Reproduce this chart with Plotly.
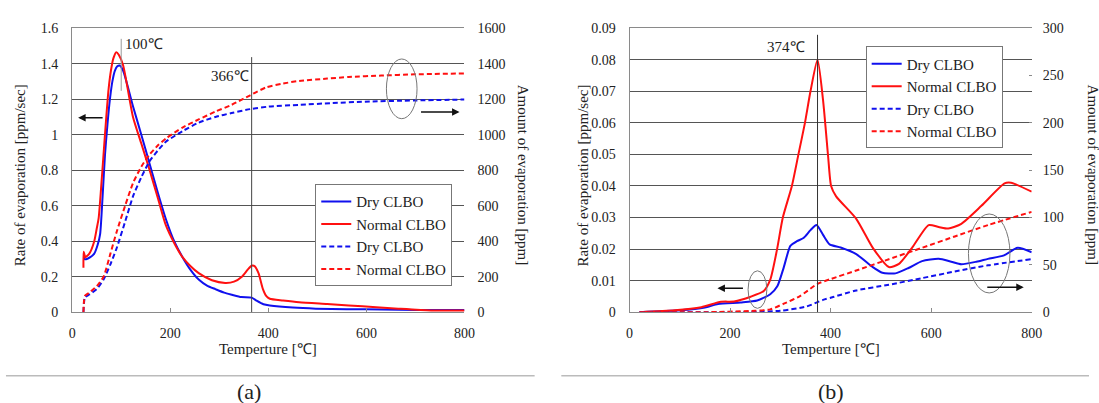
import plotly.graph_objects as go

W, H = 1099, 403
def px(x): return x / W
def py(y): return 1 - y / H

# ---------------- Panel (a) data ----------------
a_dry_rate_T = [24, 25, 30, 37, 45, 52, 57, 62, 67, 72, 77, 82, 87, 92, 97, 104, 124, 141, 158, 175, 191, 208, 225, 241, 258, 275, 292, 310, 326, 345, 366, 376, 390, 403, 450, 497, 560, 631, 700, 800]
a_dry_rate   = [0.335, 0.30, 0.30, 0.31, 0.33, 0.38, 0.44, 0.65, 0.89, 1.06, 1.20, 1.30, 1.36, 1.385, 1.39, 1.36, 1.16, 1.00, 0.835, 0.67, 0.525, 0.40, 0.31, 0.24, 0.184, 0.15, 0.13, 0.11, 0.098, 0.085, 0.082, 0.065, 0.045, 0.038, 0.026, 0.02, 0.017, 0.015, 0.013, 0.012]

a_norm_rate_T = [23, 23.5, 27, 35, 45, 50, 54, 59, 64, 69, 74, 79, 84, 90, 95, 104, 124, 141, 158, 175, 191, 208, 225, 241, 258, 285, 312, 330, 346, 358, 366, 372, 380, 389, 396, 403, 430, 463, 520, 564, 620, 665, 732, 800]
a_norm_rate   = [0.25, 0.34, 0.31, 0.33, 0.40, 0.47, 0.53, 0.70, 0.89, 1.08, 1.25, 1.36, 1.43, 1.465, 1.45, 1.39, 1.10, 0.95, 0.80, 0.64, 0.49, 0.39, 0.31, 0.26, 0.22, 0.18, 0.165, 0.172, 0.20, 0.24, 0.262, 0.26, 0.22, 0.13, 0.09, 0.076, 0.066, 0.056, 0.046, 0.038, 0.028, 0.02, 0.01, 0.01]

a_dry_amt_T = [23, 24, 26, 35, 50, 64, 78, 91, 108, 124, 141, 158, 175, 191, 225, 258, 292, 325, 363, 400, 463, 530, 597, 700, 800]
a_dry_amt   = [0, 50, 83, 100, 130, 184, 270, 363, 510, 652, 760, 851, 912, 960, 1020, 1068, 1100, 1122, 1144, 1158, 1168, 1178, 1186, 1193, 1198]

a_norm_amt_T = [23, 24, 26, 35, 50, 64, 78, 91, 108, 124, 141, 158, 175, 191, 225, 258, 292, 325, 363, 396, 430, 463, 520, 564, 630, 698, 800]
a_norm_amt   = [0, 60, 92, 110, 146, 200, 330, 455, 600, 727, 820, 889, 940, 978, 1040, 1086, 1130, 1168, 1222, 1267, 1288, 1303, 1316, 1325, 1333, 1340, 1345]

# ---------------- Panel (b) data ----------------
b_dry_rate_T = [20, 100, 150, 176, 221, 254, 280, 294, 307, 320, 333, 346, 360, 372, 385, 398, 420, 451, 484, 503, 529, 555, 582, 615, 640, 660, 690, 713, 745, 772, 800]
b_dry_rate   = [0, 0.0006, 0.0015, 0.0026, 0.0031, 0.0037, 0.0057, 0.0082, 0.0143, 0.021, 0.0225, 0.0235, 0.026, 0.0276, 0.0245, 0.0215, 0.0205, 0.0184, 0.0143, 0.0125, 0.0123, 0.014, 0.0162, 0.0169, 0.016, 0.0152, 0.016, 0.0169, 0.018, 0.0204, 0.019]

b_norm_rate_T = [20, 90, 143, 182, 208, 241, 267, 280, 293, 305, 323, 336, 349, 360, 374, 385, 395, 401, 411, 451, 484, 516, 536, 562, 595, 615, 634, 660, 700, 746, 759, 800]
b_norm_rate   = [0, 0.0006, 0.0016, 0.0033, 0.0034, 0.0049, 0.0067, 0.0103, 0.0195, 0.030, 0.040, 0.050, 0.060, 0.070, 0.080, 0.0672, 0.0495, 0.040, 0.0367, 0.0296, 0.0204, 0.0143, 0.0153, 0.0204, 0.0276, 0.027, 0.0265, 0.028, 0.0337, 0.0408, 0.041, 0.0382]

b_dry_amt_T = [20, 200, 300, 352, 385, 405, 451, 516, 582, 647, 713, 800]
b_dry_amt   = [0, 0, 1.5, 6, 13, 16, 23, 29, 36, 43, 49.5, 56]

b_norm_amt_T = [20, 150, 250, 280, 307, 339, 374, 400, 451, 516, 582, 647, 713, 800]
b_norm_amt   = [0, 0, 1.5, 3, 9, 17, 30, 35, 44, 56, 68, 80, 92, 106]

x_ticks = [0, 200, 400, 600, 800]
series_names = ["Dry CLBO", "Normal CLBO", "Dry CLBO", "Normal CLBO"]

BLUE = "#1010ee"
RED = "#ff1010"
FONT = "Liberation Serif"
GRID = "#555555"
FRAME = "#8a8a8a"

fig = go.Figure()

def add(xs, ys, name, color, dash, xa, ya, legend):
    fig.add_trace(go.Scatter(
        x=xs, y=ys, name=name, mode="lines",
        line=dict(color=color, width=2, dash=dash, shape="spline", smoothing=0.6),
        xaxis=xa, yaxis=ya, legend=legend))

# panel a
add(a_dry_rate_T, a_dry_rate, series_names[0], BLUE, "solid", "x", "y", "legend")
add(a_norm_rate_T, a_norm_rate, series_names[1], RED, "solid", "x", "y", "legend")
add(a_dry_amt_T, a_dry_amt, series_names[2], BLUE, "5px,3px", "x", "y2", "legend")
add(a_norm_amt_T, a_norm_amt, series_names[3], RED, "5px,3px", "x", "y2", "legend")
# panel b
add(b_dry_rate_T, b_dry_rate, series_names[0], BLUE, "solid", "x2", "y3", "legend2")
add(b_norm_rate_T, b_norm_rate, series_names[1], RED, "solid", "x2", "y3", "legend2")
add(b_dry_amt_T, b_dry_amt, series_names[2], BLUE, "5px,3px", "x2", "y4", "legend2")
add(b_norm_amt_T, b_norm_amt, series_names[3], RED, "5px,3px", "x2", "y4", "legend2")

tickfont = dict(family=FONT, size=14, color="#222")
ydom = [py(317), py(22)]

xcommon = dict(range=[0, 800], tickvals=x_ticks, showgrid=False, zeroline=False,
               ticks="inside", ticklen=4, tickcolor=FRAME, showline=True, linecolor=FRAME,
               mirror=True, tickfont=tickfont, ticklabelstandoff=8)
ycommon = dict(showgrid=True, gridcolor=GRID, gridwidth=1, zeroline=False, showline=True,
               linecolor=FRAME, ticks="", tickfont=tickfont, ticklabelstandoff=10)

fig.update_layout(
    width=W, height=H, margin=dict(l=0, r=0, t=0, b=0, pad=0),
    paper_bgcolor="white", plot_bgcolor="white",
    font=dict(family=FONT),
    xaxis=dict(domain=[px(70), px(467)], anchor="y", **xcommon),
    yaxis=dict(domain=ydom, range=[0, 1.6], dtick=0.2, anchor="x", **ycommon),
    yaxis2=dict(range=[0, 1600], dtick=200, overlaying="y", side="right", anchor="x",
                showgrid=False, zeroline=False, ticks="", tickfont=tickfont, ticklabelstandoff=12),
    xaxis2=dict(domain=[px(634), px(1041)], anchor="y3", **xcommon),
    yaxis3=dict(domain=ydom, range=[0, 0.09], dtick=0.01, anchor="x2", **ycommon),
    yaxis4=dict(range=[0, 300], dtick=50, overlaying="y3", side="right", anchor="x2",
                showgrid=False, zeroline=False, ticks="inside", ticklen=3, tickcolor=FRAME,
                tickfont=tickfont, ticklabelstandoff=10),
    legend=dict(x=px(316), y=py(184), xanchor="left", yanchor="top",
                bgcolor="white", bordercolor="#777", borderwidth=1,
                font=dict(family=FONT, size=15, color="#222"), tracegroupgap=0),
    legend2=dict(x=px(873), y=py(41), xanchor="left", yanchor="top",
                 bgcolor="white", bordercolor="#777", borderwidth=1,
                 font=dict(family=FONT, size=15, color="#222"), tracegroupgap=0),
)

shapes = []
# marker lines
shapes.append(dict(type="line", xref="x", yref="y", x0=366, x1=366, y0=0, y1=1.437,
                   line=dict(color="#444", width=1)))
shapes.append(dict(type="line", xref="x", yref="y", x0=100, x1=100, y0=1.247, y1=1.54,
                   line=dict(color="#999", width=1)))
shapes.append(dict(type="line", xref="x2", yref="y3", x0=374, x1=374, y0=0, y1=0.0879,
                   line=dict(color="#333", width=1)))
# ellipses
for (x0, x1, y0, y1) in [(388, 419, 54, 116), (754, 773, 274, 313), (977, 1019, 215, 297)]:
    shapes.append(dict(type="circle", xref="paper", yref="paper",
                       x0=px(x0), x1=px(x1), y0=py(y1), y1=py(y0),
                       line=dict(color="#777", width=1)))
# bottom separators
shapes.append(dict(type="line", xref="paper", yref="paper", x0=px(3), x1=px(538),
                   y0=py(383), y1=py(383), line=dict(color="#bbb", width=1.5)))
shapes.append(dict(type="line", xref="paper", yref="paper", x0=px(565), x1=px(1099),
                   y0=py(383), y1=py(383), line=dict(color="#bbb", width=1.5)))
fig.update_layout(shapes=shapes)

ann = []
def text(x, y, s, size=15, angle=0, xanchor="center", yanchor="middle"):
    ann.append(dict(xref="paper", yref="paper", x=px(x), y=py(y), text=s, showarrow=False,
                    textangle=angle, xanchor=xanchor, yanchor=yanchor,
                    font=dict(family=FONT, size=size, color="#222")))

text(121, 38, "100℃", xanchor="left")
text(208, 72, "366℃", xanchor="left")
text(771, 42, "374℃", xanchor="left")
text(18, 175, "Rate of evaporation [ppm/sec]", angle=-90)
text(527, 174, "Amount of evaporation [ppm]", angle=90)
text(587, 175, "Rate of evaporation [ppm/sec]", angle=-90)
text(1104, 174, "Amount of evaporation [ppm]", angle=90)
text(268, 355, "Temperture [℃]", size=15)
text(838, 355, "Temperture [℃]", size=15)
text(249, 384, "(a)", size=22, yanchor="top")
text(838, 384, "(b)", size=22, yanchor="top")

def arrow(hx, hy, dx):
    ann.append(dict(xref="paper", yref="paper", x=px(hx), y=py(hy), ax=dx, ay=0,
                    axref="pixel", ayref="pixel", text="", showarrow=True,
                    arrowhead=2, arrowsize=1, arrowwidth=1.5, arrowcolor="#111"))

arrow(76, 115, 26)
arrow(462, 109, -40)
arrow(723, 292, 27)
arrow(1033, 291, -38)
fig.update_layout(annotations=ann)

fig.write_html("out.html")
